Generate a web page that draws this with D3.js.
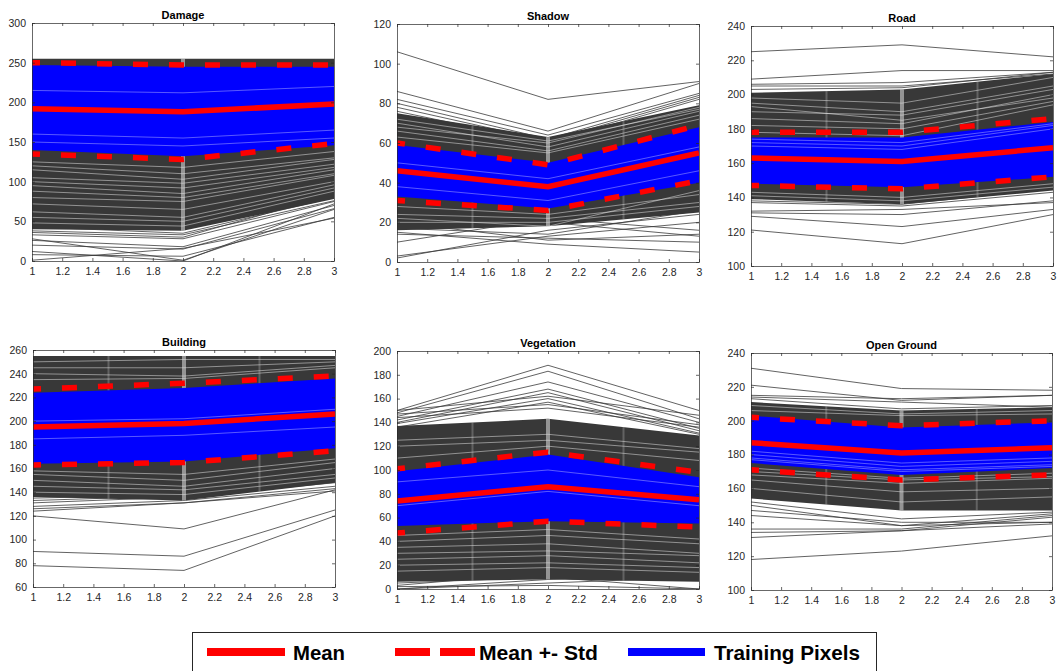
<!DOCTYPE html>
<html>
<head>
<meta charset="utf-8">
<script src="https://cdn.jsdelivr.net/npm/d3@7"></script>
<style>
body{margin:0;background:#fff;}
svg{display:block;font-family:"Liberation Sans",Arial,Helvetica,sans-serif;}
</style>
</head>
<body>
<svg id="fig" width="1057" height="671"></svg>
<script>
// band indices (x axis)
var bandX=[1,2,3];
var xTicks=[1,1.2,1.4,1.6,1.8,2,2.2,2.4,2.6,2.8,3];

var titles=["Damage","Shadow","Road","Building","Vegetation","Open Ground"];
var yDomains=[[0,300],[0,120],[100,240],[60,260],[0,200],[100,240]];
var yTickStep=[50,20,20,20,20,20];

// class statistics
var meanVals =[[192,188,198],[46,38,55],[163,161,169],[195,198,206],[74,86,75],[187,181,184]];
var upperVals=[[250,247,247],[60,49,69],[178,178,186],[227,232,238],[101,115,98],[202,197,200]];
var lowerVals=[[135,128,148],[31,26,41],[147,145,152],[163,165,175],[47,57,52],[171,165,168]];

// dense region of all pixels (black) and training pixels (blue)
var darkLo=[[40,38,78],[16,18,25],[139,136,144],[136,133,148],[6,8,6],[154,147,147]];
var darkHi=[[255,255,255],[75,63,79],[201,203,212],[255,255,255],[137,143,129],[211,206,208]];
var blueLo=[[140,132,146],[33,27,40],[148,146,152],[164,166,177],[53,57,55],[175,168,172]];
var blueHi=[[247,245,245],[59,50,68],[175,175,184],[224,228,236],[99,113,94],[203,196,199]];

// sparse pixel lines outside the dense region
var sparseLines=[
  [[43,35,80],[33,28,75],[26,18,70],[20,15,66],[8,6,55],[1,16,54],[28,1,65],[12,0,72],[36,30,84],[38,33,76]],
  [[106,82,91],[86,66,90],[82,64,85],[80,62,84],[78,61,83],[76,60,82],[10,22,16],[3,13,20],[2,16,24],[15,9,5],[14,12,10],[18,20,13],[20,11,14],[17,14,26]],
  [[225,229,222],[209,214,214],[206,207,213],[205,205,212],[203,204,213],[131,130,138],[129,123,133],[121,113,130],[132,133,137],[137,135,143],[138,136,145]],
  [[126,131,143],[128,133,145],[124,131,141],[120,109,142],[90,86,125],[78,74,120],[131,136,148],[133,137,149],[135,138,150]],
  [[150,188,150],[148,183,143],[145,174,140],[142,168,135],[140,165,133],[139,160,131],[150,162,146],[136,157,130],[147,155,138],[144,152,136],[0,5,10],[2,3,0],[5,10,0],[0,8,15],[3,14,12]],
  [[231,219,218],[221,212,215],[215,213,215],[214,211,208],[213,207,209],[147,140,140],[144,138,140],[136,136,144],[134,135,143],[131,135,139],[118,123,132],[152,142,146],[150,138,145]]
];
// light gaps between lines inside the black region
var gapLines=[
  [[120,110,130],[105,98,122],[100,92,118],[95,85,115],[88,80,110],[80,75,108],[72,65,100],[62,55,96],[55,50,92],[48,44,88],[115,103,128],[125,118,138]],
  [[70,58,76],[66,56,74],[63,55,72],[24,22,30],[20,20,28],[28,24,34],[22,18,36],[68,60,78],[72,61,77]],
  [[198,195,210],[195,190,205],[190,188,203],[186,183,200],[182,180,196],[178,176,194],[143,140,148],[141,138,146],[193,185,198]],
  [[245,245,250],[240,238,247],[235,236,245],[150,145,160],[145,142,155],[155,150,165],[140,138,152],[250,252,252],[158,155,168]],
  [[40,45,38],[35,38,30],[30,32,28],[25,28,22],[20,22,18],[15,18,14],[120,125,115],[125,130,118],[110,120,108],[45,50,42]],
  [[170,165,167],[168,163,166],[172,166,169],[160,152,155],[206,203,204],[209,204,206],[165,158,160]]
];
// light gaps inside the blue region
var blueGaps=[
  [[215,212,220],[160,155,165],[150,145,155]],
  [[50,42,58],[38,31,46]],
  [[170,168,180],[172,170,182],[174,172,183]],
  [[200,202,210],[185,188,195]],
  [[70,82,70],[90,100,86]],
  [[178,171,174],[180,173,176],[182,175,178],[177,170,173]]
];
// light vertical streaks seen where lines converge
var streakX=[[2],[1.5,2,2.5],[1.5,2,2.5],[1.5,2,2.5],[1.5,2,2.5],[1.5,2,2.5]];

var legendLabels=["Mean","Mean +- Std","Training Pixels"];

// panel boxes [left, top, right, bottom]
var boxes=[[32,23,334,261],[397,24,699,262],[751,26,1053,266],
           [33,350,335,587],[397,351,699,589],[751,353,1052,590]];

var svg=d3.select("#fig");
var axisCol="#262626";

titles.forEach(function(title,p){
  var b=boxes[p];
  var w=b[2]-b[0], h=b[3]-b[1];
  var x=d3.scaleLinear().domain([1,3]).range([0,w]);
  var y=d3.scaleLinear().domain(yDomains[p]).range([h,0]);
  var g=svg.append("g").attr("transform","translate("+b[0]+","+b[1]+")");

  svg.append("clipPath").attr("id","clip"+p).append("rect").attr("width",w).attr("height",h);
  var plot=g.append("g").attr("clip-path","url(#clip"+p+")");

  var bandArea=function(lo,hi){
    return d3.area().x(function(d,i){return x(bandX[i]);})
      .y0(function(d,i){return y(lo[i]);}).y1(function(d,i){return y(hi[i]);})(bandX);
  };
  var line=d3.line().x(function(d,i){return x(bandX[i]);}).y(function(d){return y(d);});

  sparseLines[p].forEach(function(l){
    plot.append("path").attr("d",line(l)).attr("fill","none")
      .attr("stroke","#3a3a3a").attr("stroke-width",0.8);
  });
  plot.append("path").attr("d",bandArea(darkLo[p],darkHi[p])).attr("fill","#383838");
  gapLines[p].forEach(function(l){
    plot.append("path").attr("d",line(l)).attr("fill","none")
      .attr("stroke","#fff").attr("stroke-width",1).attr("opacity",0.45);
  });
  streakX[p].forEach(function(sx){
    var k=sx===2?1:(sx<2?0.5:1.5);
    var lo=d3.interpolate(darkLo[p][Math.floor(k)],darkLo[p][Math.ceil(k)])(k%1);
    var hi=d3.interpolate(darkHi[p][Math.floor(k)],darkHi[p][Math.ceil(k)])(k%1);
    plot.append("line").attr("x1",x(sx)).attr("x2",x(sx)).attr("y1",y(lo)).attr("y2",y(hi))
      .attr("stroke","#e0e0e0").attr("stroke-width",sx===2?4:2).attr("opacity",sx===2?0.55:0.25);
  });
  plot.append("path").attr("d",bandArea(blueLo[p],blueHi[p])).attr("fill","#0000ff");
  blueGaps[p].forEach(function(l){
    plot.append("path").attr("d",line(l)).attr("fill","none")
      .attr("stroke","#fff").attr("stroke-width",1).attr("opacity",0.35);
  });

  plot.append("path").attr("d",line(meanVals[p])).attr("fill","none")
    .attr("stroke","#ff0000").attr("stroke-width",5.5);
  [upperVals[p],lowerVals[p]].forEach(function(v){
    plot.append("path").attr("d",line(v)).attr("fill","none")
      .attr("stroke","#ff0000").attr("stroke-width",5.5)
      .attr("stroke-dasharray","15,21").attr("stroke-dashoffset",7);
  });

  // axes, matlab style: ticks inside, mirrored
  var yTicks=d3.range(yDomains[p][0],yDomains[p][1]+0.1,yTickStep[p]);
  var xb=g.append("g").attr("transform","translate(0,"+h+")")
    .call(d3.axisBottom(x).tickValues(xTicks).tickSizeInner(-3).tickSizeOuter(0).tickPadding(7).tickFormat(d3.format("")));
  var xt=g.append("g").call(d3.axisTop(x).tickValues(xTicks).tickSizeInner(-3).tickSizeOuter(0).tickFormat(""));
  var yl=g.append("g").call(d3.axisLeft(y).tickValues(yTicks).tickSizeInner(-3).tickSizeOuter(0).tickPadding(6));
  var yr=g.append("g").attr("transform","translate("+w+",0)")
    .call(d3.axisRight(y).tickValues(yTicks).tickSizeInner(-3).tickSizeOuter(0).tickFormat(""));
  [xb,xt,yl,yr].forEach(function(a){
    a.selectAll("path,line").attr("stroke",axisCol).attr("stroke-width",0.7);
    a.selectAll("text").attr("fill",axisCol).style("font-size","10.5px")
      .style("font-family","'Liberation Sans',Arial,sans-serif");
  });

  g.append("text").attr("x",w/2).attr("y",-4).attr("text-anchor","middle")
    .style("font-weight","bold").style("font-size","11px").attr("fill","#000").text(title);
});

// legend
var lg=svg.append("g");
lg.append("rect").attr("x",192.5).attr("y",632.5).attr("width",684).attr("height",50)
  .attr("fill","#fff").attr("stroke",axisCol).attr("stroke-width",1);
var legItems=[
  {x1:207,x2:285,col:"#ff0000",dash:null,tx:293,tw:52},
  {x1:395,x2:475,col:"#ff0000",dash:"35,10",tx:479,tw:119},
  {x1:628,x2:705,col:"#0000ff",dash:null,tx:714,tw:146}
];
legItems.forEach(function(it,i){
  lg.append("line").attr("x1",it.x1).attr("x2",it.x2).attr("y1",652).attr("y2",652)
    .attr("stroke",it.col).attr("stroke-width",8).attr("stroke-dasharray",it.dash);
  lg.append("text").attr("x",it.tx).attr("y",660).attr("textLength",it.tw).attr("lengthAdjust","spacingAndGlyphs")
    .style("font-family","'Liberation Sans Narrow','Arial Narrow','Liberation Sans',sans-serif")
    .style("font-weight","bold").style("font-size","21px").attr("fill","#000").text(legendLabels[i]);
});
</script>
</body>
</html>
